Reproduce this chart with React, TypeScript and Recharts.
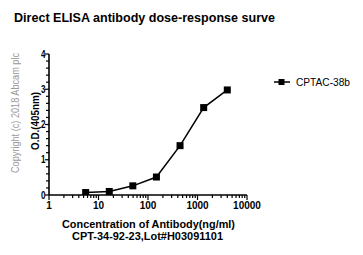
import React from "react";
import { LineChart, Line, XAxis, YAxis } from "recharts";

const concentrations = [5.5, 16.5, 49.4, 148, 444, 1333, 4000];
const odValues = [0.07, 0.1, 0.26, 0.51, 1.4, 2.48, 2.98];
const seriesName = "CPTAC-38b";
const xMajorTicks = [1, 10, 100, 1000, 10000];
const xMinorMultipliers = [2, 3, 4, 5, 6, 7, 8, 9];
const yMajorTicks = [0, 1, 2, 3, 4];
const yMinorSteps = [0.2, 0.4, 0.6, 0.8];

const title = "Direct ELISA antibody dose-response surve";
const yLabel = "O.D.(405nm)";
const xLabel1 = "Concentration of Antibody(ng/ml)";
const xLabel2 = "CPT-34-92-23,Lot#H03091101";
const copyright = "Copyright (c) 2018 Abcam plc";

const data = concentrations.map((c, i) => ({ conc: c, od: odValues[i] }));

const xTicks: number[] = [];
xMajorTicks.forEach((t, i) => {
  xTicks.push(t);
  if (i < xMajorTicks.length - 1) xMinorMultipliers.forEach((m) => xTicks.push(t * m));
});
xTicks.sort((a, b) => a - b);

const yTicks: number[] = [];
yMajorTicks.forEach((t, i) => {
  yTicks.push(t);
  if (i < yMajorTicks.length - 1) yMinorSteps.forEach((s) => yTicks.push(Math.round((t + s) * 10) / 10));
});

const FONT = "'Liberation Sans', Arial, sans-serif";

const XTick = (props: any) => {
  const { x, y, payload } = props;
  const major = xMajorTicks.includes(payload.value);
  return (
    <g>
      <line x1={x} y1={y} x2={x} y2={y + (major ? 5 : 3)} stroke="#000" strokeWidth={1.2} />
      {major && (
        <text x={x} y={y + 14} textAnchor="middle" fontFamily={FONT} fontWeight="bold" fontSize={10} fill="#000">
          {payload.value}
        </text>
      )}
    </g>
  );
};

const YTick = (props: any) => {
  const { x, y, payload } = props;
  const major = yMajorTicks.includes(payload.value);
  return (
    <g>
      <line x1={x} y1={y} x2={x - (major ? 4 : 3)} y2={y} stroke="#000" strokeWidth={1.2} />
      {major && (
        <text x={x - 3.5} y={y + 3.5} textAnchor="end" fontFamily={FONT} fontWeight="bold" fontSize={10} fill="#000" textLength={4.5} lengthAdjust="spacingAndGlyphs">
          {payload.value}
        </text>
      )}
    </g>
  );
};

const SquareDot = (props: any) => {
  const { cx, cy } = props;
  if (cx == null || cy == null) return null;
  return <rect x={cx - 3.5} y={cy - 3.5} width={7} height={7} fill="#000" />;
};

export default function App() {
  return (
    <div style={{ position: "absolute", left: 0, top: 0, width: 363, height: 255, background: "#fff" }}>
      <LineChart
        width={363}
        height={255}
        data={data}
        margin={{ top: 54, right: 116, bottom: 40, left: 0 }}
      >
        <XAxis
          dataKey="conc"
          type="number"
          scale="log"
          domain={[1, 10000]}
          ticks={xTicks}
          interval={0}
          height={20}
          tickSize={0}
          tickMargin={0}
          tickLine={false}
          tick={<XTick />}
          axisLine={{ stroke: "#000", strokeWidth: 1.6 }}
          allowDataOverflow
        />
        <YAxis
          type="number"
          domain={[0, 4]}
          ticks={yTicks}
          interval={0}
          width={49}
          tickSize={0}
          tickMargin={0}
          tickLine={false}
          tick={<YTick />}
          axisLine={{ stroke: "#000", strokeWidth: 1.6 }}
          allowDataOverflow
        />
        <Line
          type="linear"
          dataKey="od"
          name={seriesName}
          stroke="#000"
          strokeWidth={1.5}
          dot={<SquareDot />}
          activeDot={false}
          isAnimationActive={false}
        />
      </LineChart>
      <svg
        width={363}
        height={255}
        style={{ position: "absolute", left: 0, top: 0, pointerEvents: "none" }}
      >
        <text x={14} y={22} fontFamily={FONT} fontWeight="bold" fontSize={12.5} fill="#000" textLength={261} lengthAdjust="spacingAndGlyphs">
          {title}
        </text>
        <text
          x={0}
          y={0}
          transform="translate(19,113) rotate(-90)"
          textAnchor="middle"
          fontFamily={FONT}
          fontSize={10}
          fill="#9a9a9a"
          textLength={120}
          lengthAdjust="spacingAndGlyphs"
        >
          {copyright}
        </text>
        <text
          x={0}
          y={0}
          transform="translate(39,121) rotate(-90)"
          textAnchor="middle"
          fontFamily={FONT}
          fontWeight="bold"
          fontSize={11.5}
          fill="#000"
          textLength={58}
          lengthAdjust="spacingAndGlyphs"
        >
          {yLabel}
        </text>
        <text x={148.5} y={228} textAnchor="middle" fontFamily={FONT} fontWeight="bold" fontSize={11.5} fill="#000" textLength={173} lengthAdjust="spacingAndGlyphs">
          {xLabel1}
        </text>
        <text x={147.5} y={240} textAnchor="middle" fontFamily={FONT} fontWeight="bold" fontSize={11.5} fill="#000" textLength={151} lengthAdjust="spacingAndGlyphs">
          {xLabel2}
        </text>
        <line x1={274} y1={82} x2={290} y2={82} stroke="#000" strokeWidth={1.5} />
        <rect x={278.5} y={79} width={6} height={6} fill="#000" />
        <text x={296} y={85.5} fontFamily={FONT} fontSize={10} fill="#000" textLength={54} lengthAdjust="spacingAndGlyphs">
          {seriesName}
        </text>
      </svg>
    </div>
  );
}
